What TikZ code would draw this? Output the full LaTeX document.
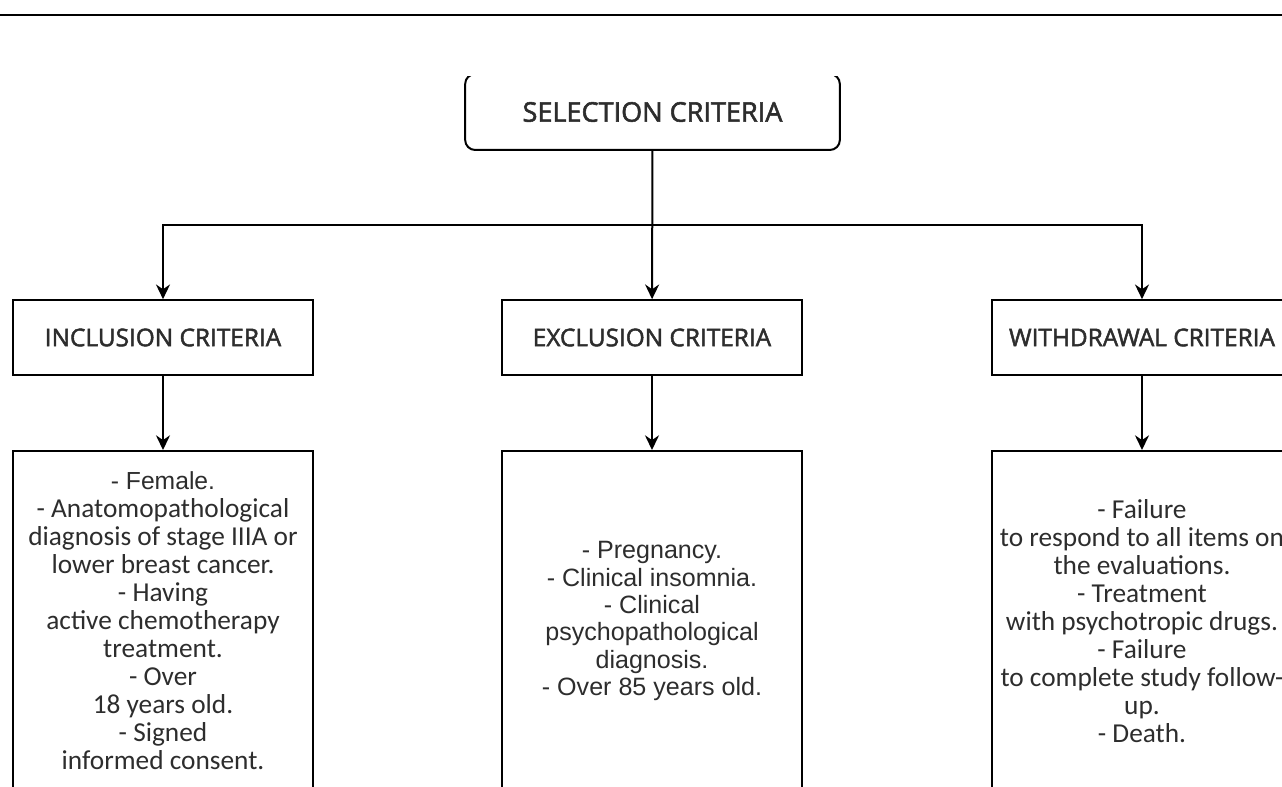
\documentclass[tikz,border=0pt]{standalone}
\usepackage{fontspec}
\usetikzlibrary{arrows.meta}
\newfontfamily\headfont[FakeBold=2]{Open Sans}
\newfontfamily\califont{Carlito}
\newfontfamily\arialfont{Liberation Sans}
\definecolor{txtgray}{RGB}{45,45,45}
\tikzset{
  selbox/.style={draw, rounded corners=7.5pt, line width=1.5pt, minimum width=281pt,
    minimum height=57pt, text=txtgray, font=\headfont\fontsize{20.3}{22}\selectfont},
  critbox/.style={draw, line width=1.5pt, minimum width=225pt, minimum height=56pt,
    text=txtgray, font=\headfont\fontsize{18.3}{22}\selectfont},
  listbox/.style={draw, line width=1.5pt, minimum width=225pt, minimum height=255pt,
    align=center, text=txtgray, font=\califont\fontsize{20.5}{21}\selectfont},
  arr/.style={line width=1.5pt, -{Stealth[length=11pt,width=10.5pt]}}
}
\begin{document}
\begin{tikzpicture}[x=0.75pt,y=-0.75pt]
    \useasboundingbox (0,0) rectangle (1282,787);
    \draw[line width=0.8pt] (0,15) -- (1282,15);
    \begin{scope}
    \clip (0,77) rectangle (1282,787);
    % top box
    \node[selbox] (sel) at (652.5,112) {SELECTION CRITERIA};
    % criteria headers
    \node[critbox] (inc) at (163,337.5) {INCLUSION CRITERIA};
    \node[critbox] (exc) at (652,337.5) {EXCLUSION CRITERIA};
    \node[critbox] (wdr) at (1142,337.5) {WITHDRAWAL CRITERIA};
    % lists
    \node[listbox] (incl) at (163,621) {{\arialfont\fontsize{18.5}{21}\selectfont - Female.}\\- Anatomopathological\\diagnosis of stage IIIA or\\lower breast cancer.\\- Having\\active chemotherapy\\treatment.\\- Over\\18 years old.\\- Signed\\informed consent.};
    \node[listbox, font=\arialfont\fontsize{18.8}{20.5}\selectfont] (excl) at (652,621) {- Pregnancy.\\- Clinical insomnia.\\- Clinical\\psychopathological\\diagnosis.\\- Over 85 years old.};
    \node[listbox] (wdrl) at (1142,621) {- Failure\\to respond to all items on\\the evaluations.\\- Treatment\\with psychotropic drugs.\\- Failure\\to complete study follow-\\up.\\- Death.};
    \coordinate (bus) at (652,225);
    \draw[arr] (sel) -- (exc);
    \draw[arr] (bus) -| (inc);
    \draw[arr] (bus) -| (wdr);
    \draw[arr] (inc) -- (incl);
    \draw[arr] (exc) -- (excl);
    \draw[arr] (wdr) -- (wdrl);
    \end{scope}
\end{tikzpicture}
\end{document}
